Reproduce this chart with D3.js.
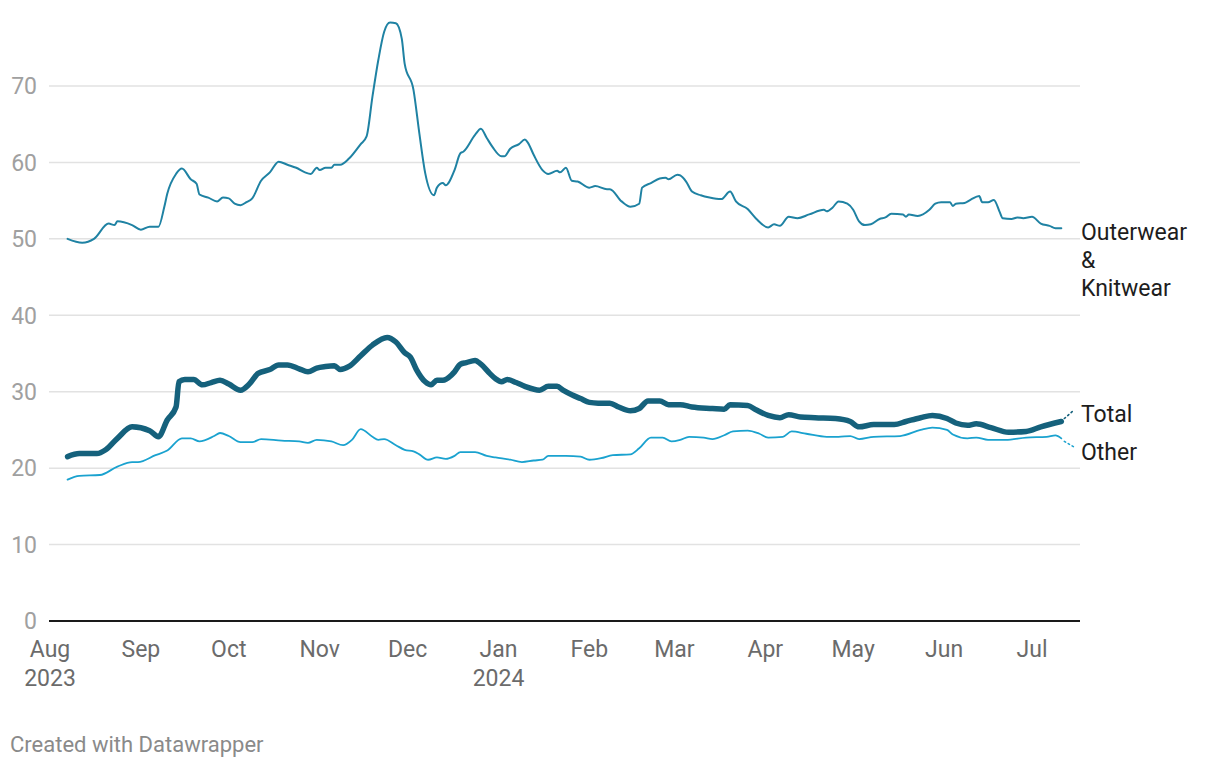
<!DOCTYPE html>
<html>
<head>
<meta charset="utf-8">
<script src="https://cdn.jsdelivr.net/npm/d3@7"></script>
<style>
  html, body { margin: 0; padding: 0; background: #fff; }
  svg { display: block; font-family: Roboto, "Noto Sans", sans-serif; }
</style>
</head>
<body>
<svg id="chart" width="1220" height="768"></svg>
<script>
const outerwear = [["2023-08-07",50.0],["2023-08-12",49.5],["2023-08-16",50.0],["2023-08-21",52.0],["2023-08-23",51.8],["2023-08-24",52.3],["2023-08-29",51.8],["2023-09-01",51.2],["2023-09-04",51.6],["2023-09-07",51.6],["2023-09-09",54.2],["2023-09-10",55.9],["2023-09-13",58.5],["2023-09-15",59.2],["2023-09-18",57.8],["2023-09-20",57.2],["2023-09-21",55.8],["2023-09-24",55.4],["2023-09-27",54.9],["2023-09-29",55.4],["2023-10-01",55.3],["2023-10-03",54.6],["2023-10-05",54.4],["2023-10-07",54.8],["2023-10-09",55.3],["2023-10-12",57.6],["2023-10-15",58.7],["2023-10-18",60.1],["2023-10-21",59.7],["2023-10-24",59.3],["2023-10-27",58.7],["2023-10-29",58.5],["2023-10-31",59.3],["2023-11-01",59.0],["2023-11-03",59.3],["2023-11-05",59.3],["2023-11-06",59.7],["2023-11-08",59.7],["2023-11-11",60.5],["2023-11-15",62.4],["2023-11-17",63.4],["2023-11-19",68.6],["2023-11-21",73.4],["2023-11-23",77.1],["2023-11-25",78.3],["2023-11-27",78.2],["2023-11-29",76.2],["2023-11-30",72.9],["2023-12-03",69.5],["2023-12-05",63.8],["2023-12-07",58.6],["2023-12-10",55.7],["2023-12-11",56.7],["2023-12-13",57.3],["2023-12-14",57.0],["2023-12-17",59.0],["2023-12-19",61.2],["2023-12-20",61.4],["2023-12-24",63.6],["2023-12-26",64.4],["2023-12-28",63.2],["2023-12-30",62.0],["2024-01-02",60.8],["2024-01-03",60.8],["2024-01-05",61.8],["2024-01-08",62.4],["2024-01-10",63.0],["2024-01-11",62.6],["2024-01-13",61.0],["2024-01-16",59.0],["2024-01-18",58.5],["2024-01-21",58.9],["2024-01-22",58.7],["2024-01-24",59.3],["2024-01-26",57.6],["2024-01-28",57.5],["2024-02-01",56.7],["2024-02-03",56.9],["2024-02-07",56.5],["2024-02-08",56.5],["2024-02-12",54.9],["2024-02-15",54.2],["2024-02-18",54.6],["2024-02-19",56.7],["2024-02-22",57.3],["2024-02-25",57.9],["2024-02-27",58.0],["2024-02-28",57.8],["2024-03-02",58.4],["2024-03-03",58.3],["2024-03-05",57.5],["2024-03-07",56.2],["2024-03-10",55.7],["2024-03-13",55.4],["2024-03-17",55.2],["2024-03-20",56.2],["2024-03-22",54.9],["2024-03-26",53.9],["2024-03-29",52.6],["2024-04-02",51.5],["2024-04-04",51.9],["2024-04-06",51.7],["2024-04-09",52.9],["2024-04-12",52.7],["2024-04-16",53.2],["2024-04-21",53.8],["2024-04-22",53.6],["2024-04-24",54.1],["2024-04-26",54.9],["2024-04-29",54.6],["2024-05-01",53.8],["2024-05-03",52.3],["2024-05-05",51.8],["2024-05-07",51.9],["2024-05-10",52.6],["2024-05-12",52.8],["2024-05-14",53.3],["2024-05-18",53.2],["2024-05-19",52.9],["2024-05-20",53.2],["2024-05-23",53.0],["2024-05-27",53.8],["2024-05-29",54.6],["2024-05-31",54.8],["2024-06-03",54.8],["2024-06-04",54.3],["2024-06-05",54.6],["2024-06-08",54.7],["2024-06-10",55.1],["2024-06-13",55.6],["2024-06-14",54.8],["2024-06-16",54.8],["2024-06-18",55.1],["2024-06-20",53.5],["2024-06-21",52.7],["2024-06-24",52.6],["2024-06-26",52.8],["2024-06-28",52.7],["2024-07-01",52.9],["2024-07-04",52.0],["2024-07-07",51.7],["2024-07-09",51.4],["2024-07-11",51.4]];

const total = [["2023-08-07",21.5],["2023-08-11",21.9],["2023-08-17",21.9],["2023-08-20",22.4],["2023-08-24",23.9],["2023-08-29",25.4],["2023-09-04",24.9],["2023-09-07",24.1],["2023-09-10",26.3],["2023-09-13",28.0],["2023-09-14",31.3],["2023-09-16",31.6],["2023-09-19",31.6],["2023-09-22",30.9],["2023-09-25",31.2],["2023-09-28",31.5],["2023-10-01",31.0],["2023-10-05",30.2],["2023-10-08",31.0],["2023-10-11",32.4],["2023-10-15",32.9],["2023-10-18",33.5],["2023-10-21",33.5],["2023-10-25",33.0],["2023-10-28",32.6],["2023-10-31",33.1],["2023-11-03",33.3],["2023-11-06",33.4],["2023-11-08",32.9],["2023-11-11",33.3],["2023-11-15",34.7],["2023-11-19",36.1],["2023-11-24",37.1],["2023-11-27",36.5],["2023-11-30",35.1],["2023-12-02",34.5],["2023-12-04",32.9],["2023-12-07",31.3],["2023-12-09",30.9],["2023-12-11",31.5],["2023-12-13",31.5],["2023-12-16",32.2],["2023-12-17",32.6],["2023-12-19",33.6],["2023-12-21",33.8],["2023-12-24",34.1],["2023-12-26",33.6],["2023-12-29",32.4],["2023-12-31",31.7],["2024-01-02",31.3],["2024-01-04",31.6],["2024-01-07",31.2],["2024-01-10",30.7],["2024-01-15",30.2],["2024-01-18",30.7],["2024-01-21",30.7],["2024-01-23",30.2],["2024-01-26",29.6],["2024-01-29",29.1],["2024-02-01",28.6],["2024-02-04",28.5],["2024-02-08",28.5],["2024-02-11",28.0],["2024-02-15",27.5],["2024-02-18",27.8],["2024-02-21",28.8],["2024-02-25",28.8],["2024-02-28",28.3],["2024-03-03",28.3],["2024-03-07",28.0],["2024-03-14",27.8],["2024-03-18",27.7],["2024-03-20",28.3],["2024-03-26",28.2],["2024-03-29",27.6],["2024-04-02",26.9],["2024-04-06",26.6],["2024-04-09",27.0],["2024-04-13",26.7],["2024-04-18",26.6],["2024-04-25",26.5],["2024-04-30",26.1],["2024-05-03",25.4],["2024-05-08",25.7],["2024-05-15",25.7],["2024-05-19",26.1],["2024-05-24",26.6],["2024-05-28",26.9],["2024-06-02",26.5],["2024-06-05",25.9],["2024-06-09",25.6],["2024-06-12",25.8],["2024-06-17",25.3],["2024-06-23",24.7],["2024-06-29",24.8],["2024-07-04",25.4],["2024-07-11",26.1]];

const other = [["2023-08-07",18.5],["2023-08-11",19.0],["2023-08-18",19.1],["2023-08-24",20.2],["2023-08-29",20.8],["2023-08-31",20.8],["2023-09-06",21.7],["2023-09-10",22.3],["2023-09-15",23.9],["2023-09-18",23.9],["2023-09-21",23.5],["2023-09-26",24.2],["2023-09-28",24.6],["2023-10-01",24.2],["2023-10-05",23.4],["2023-10-09",23.4],["2023-10-12",23.8],["2023-10-19",23.6],["2023-10-25",23.5],["2023-10-28",23.3],["2023-10-31",23.7],["2023-11-05",23.5],["2023-11-09",23.0],["2023-11-12",23.7],["2023-11-15",25.1],["2023-11-19",24.1],["2023-11-21",23.7],["2023-11-23",23.8],["2023-11-27",23.0],["2023-11-30",22.4],["2023-12-03",22.2],["2023-12-05",21.8],["2023-12-08",21.1],["2023-12-11",21.4],["2023-12-14",21.2],["2023-12-17",21.6],["2023-12-19",22.1],["2023-12-24",22.1],["2023-12-28",21.6],["2023-12-31",21.4],["2024-01-05",21.1],["2024-01-09",20.8],["2024-01-13",21.0],["2024-01-16",21.1],["2024-01-18",21.6],["2024-01-24",21.6],["2024-01-29",21.5],["2024-02-01",21.1],["2024-02-05",21.3],["2024-02-09",21.7],["2024-02-15",21.8],["2024-02-18",22.6],["2024-02-22",24.0],["2024-02-26",24.0],["2024-02-29",23.5],["2024-03-03",23.7],["2024-03-06",24.1],["2024-03-11",24.0],["2024-03-14",23.8],["2024-03-18",24.3],["2024-03-21",24.8],["2024-03-26",24.9],["2024-03-30",24.5],["2024-04-02",24.0],["2024-04-07",24.1],["2024-04-10",24.8],["2024-04-15",24.5],["2024-04-22",24.1],["2024-04-26",24.1],["2024-04-30",24.2],["2024-05-03",23.8],["2024-05-08",24.1],["2024-05-17",24.2],["2024-05-24",25.0],["2024-05-28",25.3],["2024-06-02",25.0],["2024-06-04",24.4],["2024-06-09",23.9],["2024-06-12",24.0],["2024-06-16",23.7],["2024-06-22",23.7],["2024-06-29",24.0],["2024-07-06",24.1],["2024-07-09",24.3],["2024-07-11",23.9]];

const yTicks = [0, 10, 20, 30, 40, 50, 60, 70];
const monthTicks = ["2023-08-01","2023-09-01","2023-10-01","2023-11-01","2023-12-01","2024-01-01","2024-02-01","2024-03-01","2024-04-01","2024-05-01","2024-06-01","2024-07-01"];
const monthLabels = ["Aug","Sep","Oct","Nov","Dec","Jan","Feb","Mar","Apr","May","Jun","Jul"];
const yearLabels = {"2023-08-01": "2023", "2024-01-01": "2024"};

const seriesList = [
  { name: "Outerwear & Knitwear", lines: ["Outerwear", "&", "Knitwear"], data: outerwear, color: "#1f82a3", width: 2 },
  { name: "Other", lines: ["Other"], data: other, color: "#1aa2cf", width: 1.8 },
  { name: "Total", lines: ["Total"], data: total, color: "#15617c", width: 5.5 }
];

const parse = d3.timeParse("%Y-%m-%d");
const svg = d3.select("#chart");

const x = d3.scaleTime()
  .domain([parse("2023-08-01"), parse("2024-07-01")])
  .range([50, 1032]);
const y = d3.scaleLinear().domain([0, 70]).range([621, 86]);

const gridLeft = 49, gridRight = 1080;

// gridlines
svg.append("g").selectAll("line")
  .data(yTicks.filter(t => t !== 0))
  .join("line")
  .attr("x1", gridLeft).attr("x2", gridRight)
  .attr("y1", d => y(d)).attr("y2", d => y(d))
  .attr("stroke", "#e2e2e2").attr("stroke-width", 1.5);

// y labels
svg.append("g").selectAll("text")
  .data(yTicks)
  .join("text")
  .attr("x", 37).attr("y", d => y(d))
  .attr("dy", "0.36em")
  .attr("text-anchor", "end")
  .attr("fill", "#a0a0a0")
  .attr("font-size", 23)
  .text(d => d);

// x labels
const xg = svg.append("g");
monthTicks.forEach((m, i) => {
  const px = x(parse(m));
  xg.append("text").attr("x", px).attr("y", 657)
    .attr("text-anchor", "middle").attr("fill", "#6b6b6b").attr("font-size", 23)
    .text(monthLabels[i]);
  if (yearLabels[m]) {
    xg.append("text").attr("x", px).attr("y", 686)
      .attr("text-anchor", "middle").attr("fill", "#6b6b6b").attr("font-size", 23)
      .text(yearLabels[m]);
  }
});

// lines
const line = d3.line()
  .x(d => x(parse(d[0])))
  .y(d => y(d[1]))
  .curve(d3.curveMonotoneX);

svg.append("g").selectAll("path")
  .data(seriesList)
  .join("path")
  .attr("fill", "none")
  .attr("stroke", d => d.color)
  .attr("stroke-width", d => d.width)
  .attr("stroke-linejoin", "round")
  .attr("stroke-linecap", "round")
  .attr("d", d => line(d.data));

// baseline
svg.append("line")
  .attr("x1", gridLeft).attr("x2", gridRight)
  .attr("y1", y(0)).attr("y2", y(0))
  .attr("stroke", "#1a1a1a").attr("stroke-width", 2);

// labels
const labelX = 1081;
const labelPos = { "Outerwear & Knitwear": 240, "Total": 421.5, "Other": 459.5 };
const lg = svg.append("g");
seriesList.forEach(s => {
  const t = lg.append("text").attr("x", labelX).attr("y", labelPos[s.name])
    .attr("fill", "#1d1d1d").attr("font-size", 23);
  s.lines.forEach((ln, i) => {
    t.append("tspan").attr("x", labelX).attr("dy", i === 0 ? 0 : 28).text(ln);
  });
});

// dotted connectors for Total and Other
const lastOf = arr => arr[arr.length - 1];
[[total, "#15617c", 410], [other, "#1aa2cf", 447]].forEach(([data, color, ty]) => {
  const ld = lastOf(data);
  const lx = x(parse(ld[0])), ly = y(ld[1]);
  lg.append("line")
    .attr("x1", lx + 3).attr("y1", ly + (ty < ly ? -3 : 3))
    .attr("x2", 1074).attr("y2", ty)
    .attr("stroke", color).attr("stroke-width", 1.6)
    .attr("stroke-dasharray", "1.5,3").attr("stroke-linecap", "round");
});

// footer
svg.append("text")
  .attr("x", 10).attr("y", 752)
  .attr("fill", "#8a8a8a").attr("font-size", 22)
  .text("Created with Datawrapper");
</script>
</body>
</html>
